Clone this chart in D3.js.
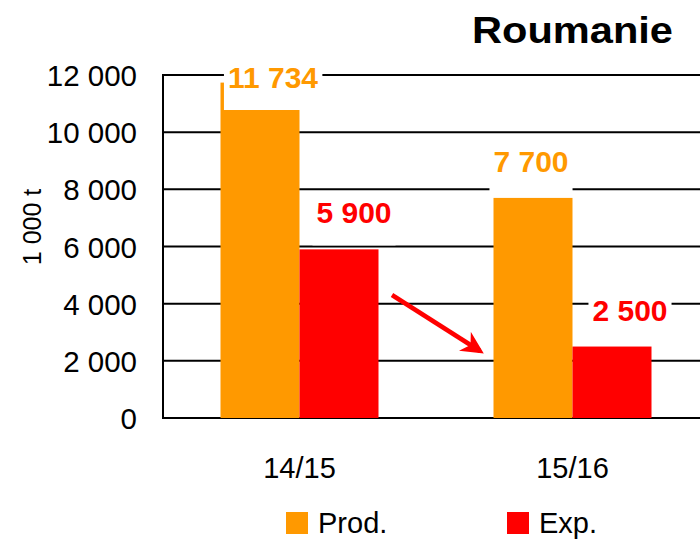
<!DOCTYPE html>
<html>
<head>
<meta charset="utf-8">
<script src="https://cdn.jsdelivr.net/npm/d3@7"></script>
<style>
  body { margin: 0; background: #fff; }
  text { font-family: "Liberation Sans", Arial, sans-serif; }
</style>
</head>
<body>
<div id="chart-area"></div>
<script>
// data
var seasons = ["14/15", "15/16"];
var seriesNames = ["Prod.", "Exp."];
var prodValues = [11734, 7700];
var expValues = [5900, 2500];
var yTicks = [0, 2000, 4000, 6000, 8000, 10000, 12000];
var colors = ["#FF9900", "#FF0000"];

// label nudges (layout only), per season then series
var labelDx = [[13, 15], [-2, 18]];

var fmt = function (d) { return d3.format(",")(d).replace(/,/g, " "); };

var svgWidth = 700, svgHeight = 541;
var svg = d3.select("#chart-area").append("svg")
    .attr("width", svgWidth)
    .attr("height", svgHeight);

var plotLeft = 163, plotTop = 75, plotBottom = 418, plotRight = 709;
var groupWidth = 158;

// Scales
var x0 = d3.scaleBand().domain(seasons).range([plotLeft, plotRight]);
var x1 = d3.scaleBand().domain(seriesNames).range([0, groupWidth]);
var y = d3.scaleLinear().domain([0, 12000]).range([plotBottom, plotTop]);

function groupStart(s) { return x0(s) + (x0.bandwidth() - groupWidth) / 2; }

// gridlines
svg.append("g").selectAll("line")
    .data(yTicks)
    .enter().append("line")
    .attr("x1", plotLeft).attr("x2", plotRight)
    .attr("y1", function (d) { return y(d); })
    .attr("y2", function (d) { return y(d); })
    .attr("stroke", "#000")
    .attr("stroke-width", 2);

// y axis line
svg.append("line")
    .attr("x1", plotLeft).attr("x2", plotLeft)
    .attr("y1", y(12000) - 1).attr("y2", y(0) + 1)
    .attr("stroke", "#000").attr("stroke-width", 2);

// y tick labels
svg.append("g").selectAll("text")
    .data(yTicks)
    .enter().append("text")
    .attr("x", 137)
    .attr("y", function (d) { return y(d) + 11; })
    .attr("text-anchor", "end")
    .attr("font-size", 29.5)
    .attr("fill", "#000")
    .text(fmt);

// y axis title
svg.append("text")
    .attr("transform", "translate(41,227) rotate(-90)")
    .attr("text-anchor", "middle")
    .attr("font-size", 25)
    .text("1 000 t");

// bars
var rows = seasons.map(function (s, i) {
    return [{ season: s, name: seriesNames[0], value: prodValues[i], color: colors[0] },
            { season: s, name: seriesNames[1], value: expValues[i], color: colors[1] }];
});
var groups = svg.append("g").selectAll("g")
    .data(rows)
    .enter().append("g")
    .attr("transform", function (d) { return "translate(" + groupStart(d[0].season) + ",0)"; });

groups.selectAll("rect")
    .data(function (d) { return d; })
    .enter().append("rect")
    .attr("x", function (d) { return x1(d.name); })
    .attr("width", x1.bandwidth())
    .attr("y", function (d) { return y(d.value); })
    .attr("height", function (d) { return y(0) - y(d.value); })
    .attr("fill", function (d) { return d.color; });

// value labels with white boxes
var labelLayer = svg.append("g");
rows.forEach(function (r, i) {
    r.forEach(function (d, j) {
        var cx = groupStart(d.season) + x1(d.name) + x1.bandwidth() / 2 + labelDx[i][j];
        var by = Math.max(y(d.value) - 26, 88);
        var g = labelLayer.append("g");
        var t = g.append("text")
            .attr("x", cx)
            .attr("y", by)
            .attr("text-anchor", "middle")
            .attr("font-size", 30)
            .attr("font-weight", "bold")
            .attr("fill", d.color)
            .text(fmt(d.value));
        var bb = t.node().getBBox();
        g.insert("rect", "text")
            .attr("x", bb.x - 4)
            .attr("y", bb.y)
            .attr("width", bb.width + 8)
            .attr("height", by + 22 - bb.y)
            .attr("fill", "#fff");
    });
});

// x labels
svg.append("g").selectAll("text")
    .data(seasons)
    .enter().append("text")
    .attr("x", function (d) { return x0(d) + x0.bandwidth() / 2; })
    .attr("y", 478)
    .attr("text-anchor", "middle")
    .attr("font-size", 29)
    .text(function (d) { return d; });

// arrow
var defs = svg.append("defs");
defs.append("marker")
    .attr("id", "arrowhead")
    .attr("viewBox", "0 0 10 10")
    .attr("refX", 8).attr("refY", 5)
    .attr("markerWidth", 5).attr("markerHeight", 5)
    .attr("markerUnits", "strokeWidth")
    .attr("orient", "auto")
    .append("path")
    .attr("d", "M0,0 L10,5 L0,10 L3,5 Z")
    .attr("fill", "#FF0000");

svg.append("line")
    .attr("x1", 392).attr("y1", 295)
    .attr("x2", 480).attr("y2", 351)
    .attr("stroke", "#FF0000")
    .attr("stroke-width", 4.5)
    .attr("marker-end", "url(#arrowhead)");

// title
svg.append("text")
    .attr("x", 472)
    .attr("y", 43)
    .attr("font-size", 37)
    .attr("font-weight", "bold")
    .attr("textLength", 201)
    .attr("lengthAdjust", "spacingAndGlyphs")
    .text("Roumanie");

// legend
var legendX = [286, 507];
var legend = svg.append("g").selectAll("g")
    .data(seriesNames)
    .enter().append("g")
    .attr("transform", function (d, i) { return "translate(" + legendX[i] + ",512)"; });
legend.append("rect")
    .attr("width", 22).attr("height", 22)
    .attr("fill", function (d, i) { return colors[i]; });
legend.append("text")
    .attr("x", 32).attr("y", 21)
    .attr("font-size", 29)
    .text(function (d) { return d; });
</script>
</body>
</html>
